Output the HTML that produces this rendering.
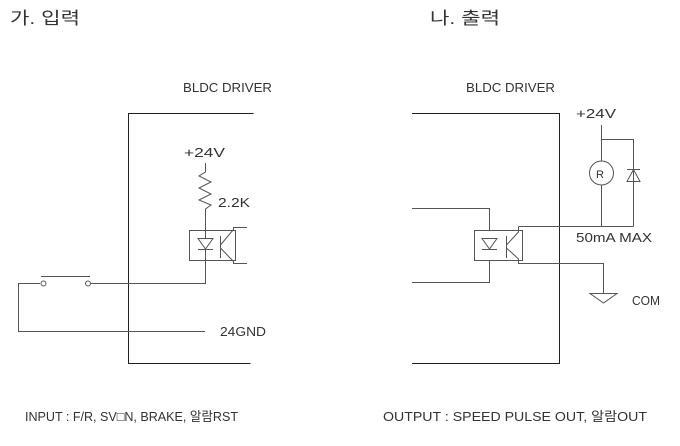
<!DOCTYPE html>
<html><head><meta charset="utf-8"><style>
html,body{margin:0;padding:0;background:#fff;}
svg{display:block;}
text{font-family:"Liberation Sans","Noto Sans CJK KR",sans-serif;fill:#333;}
</style></head><body>
<svg width="680" height="446" viewBox="0 0 680 446" xmlns="http://www.w3.org/2000/svg">
<g fill="none" stroke="#555" stroke-width="1">
<path d="M253.5 113.5H128.5V363.5H250.5" stroke="#222"/>
<path d="M205.5 163V172L199 176L211 182L199 188L211 194L199 200L211 205L205.5 209V230"/>
<rect x="189.5" y="230.5" width="46" height="30"/>
<path d="M198 238.5H213L205.5 249ZM198 249.5H213M205.5 238V230M205.5 249V261"/>
<path d="M220.5 236V258M220.5 245L233.5 229.5V227.5H247M220.5 248L233.5 261.5V263.5H247"/>
<path d="M205.5 261V283.5H91M40 283.5H18.5V331.5H205"/>
<path d="M41 276.5H90"/>
<circle cx="43.5" cy="283.5" r="2.5"/><circle cx="88" cy="283.5" r="2.5"/>
<path d="M412 113.5H559.5V363.5H412" stroke="#222"/>
<path d="M601.5 125V161M601.5 185V226.5M601.5 139.5H633.5V226.5M518.5 226.5H633.5"/>
<circle cx="601.5" cy="173" r="12"/>
<path d="M627 169.5H640M633.5 169.5L627 181.5H640Z"/>
<rect x="474.5" y="230.5" width="48" height="30"/>
<path d="M412 208.5H489.5V230M412 282.5H489.5V260M482 238.5H497L489.5 249ZM482 249.5H497"/>
<path d="M506.5 236V258M506.5 245L518.5 232V226.5M506.5 248L518.5 259V263.5H603.5V293"/>
<path d="M590 293.5H617L603.5 303Z"/>
</g>
<g font-size="17">
<text x="10" y="24" textLength="70" lengthAdjust="spacingAndGlyphs">가. 입력</text>
<text x="430" y="24" textLength="70" lengthAdjust="spacingAndGlyphs">나. 출력</text>
</g>
<g font-size="13" lengthAdjust="spacingAndGlyphs">
<text x="183" y="92" textLength="89" lengthAdjust="spacingAndGlyphs">BLDC DRIVER</text>
<text x="466" y="92" textLength="89" lengthAdjust="spacingAndGlyphs">BLDC DRIVER</text>
<text x="184" y="157" textLength="41" lengthAdjust="spacingAndGlyphs">+24V</text>
<text x="218" y="207" textLength="32" lengthAdjust="spacingAndGlyphs">2.2K</text>
<text x="220" y="336" textLength="46" lengthAdjust="spacingAndGlyphs">24GND</text>
<text x="576" y="118" textLength="40" lengthAdjust="spacingAndGlyphs">+24V</text>
<text x="596" y="178" font-size="11">R</text>
<text x="576" y="242" textLength="76" lengthAdjust="spacingAndGlyphs">50mA MAX</text>
<text x="632" y="305" textLength="28" lengthAdjust="spacingAndGlyphs">COM</text>
<text x="25" y="421" textLength="213" lengthAdjust="spacingAndGlyphs">INPUT : F/R, SV□N, BRAKE, 알람RST</text>
<text x="383" y="421" textLength="264" lengthAdjust="spacingAndGlyphs">OUTPUT : SPEED PULSE OUT, 알람OUT</text>
</g>
</svg>
</body></html>
